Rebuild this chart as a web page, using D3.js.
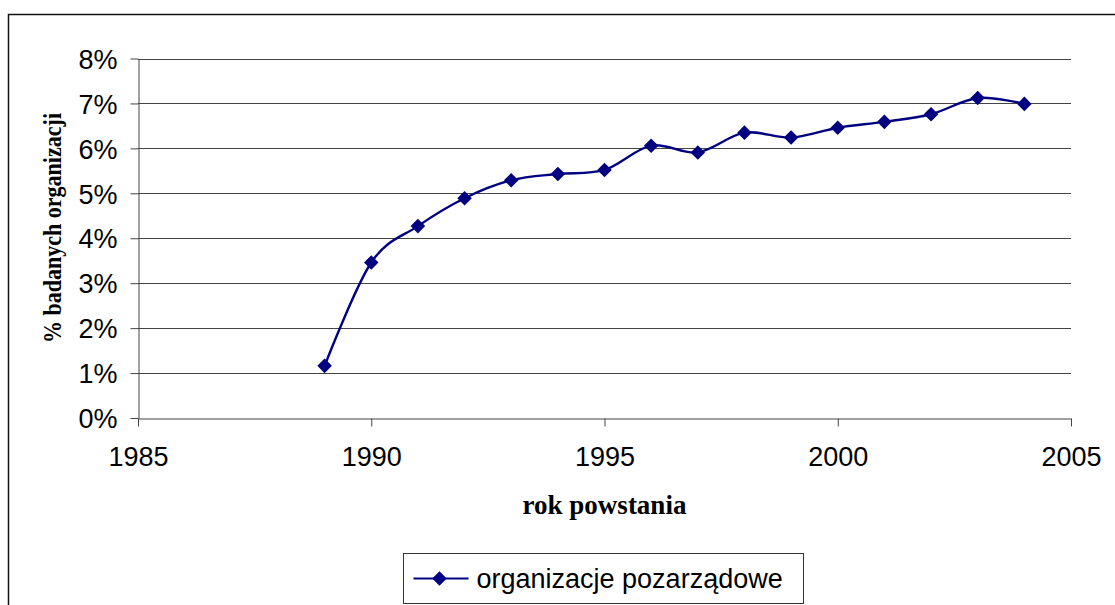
<!DOCTYPE html>
<html>

<head>
    <meta charset="utf-8">
    <title>rok powstania</title>
    <style>
        body { margin: 0; background: #fff; }
        svg { display: block; }
    </style>
</head>

<body>
    <script src="https://d3js.org/d3.v7.min.js"></script>
    <svg width="1115" height="605" id="mainsvg"></svg>

    <script>
        // data
        const years = [1989, 1990, 1991, 1992, 1993, 1994, 1995, 1996, 1997, 1998, 1999, 2000, 2001, 2002, 2003, 2004];
        const shares = [1.16, 3.46, 4.27, 4.89, 5.29, 5.43, 5.52, 6.06, 5.91, 6.35, 6.24, 6.46, 6.59, 6.76, 7.12, 6.99];
        const xTicks = [1985, 1990, 1995, 2000, 2005];
        const yTicks = [0, 1, 2, 3, 4, 5, 6, 7, 8];
        const seriesName = 'organizacje pozarządowe';

        const svg = d3.select('#mainsvg');
        const navy = '#000080';
        const grid = '#444';

        // outer chart border (right/bottom run off the picture)
        svg.append('rect')
            .attr('x', 8.5).attr('y', 14.5)
            .attr('width', 1120).attr('height', 620)
            .attr('fill', 'none').attr('stroke', '#111').attr('stroke-width', 1.5);

        const xScale = d3.scaleLinear().domain([1985, 2005]).range([138, 1071]);
        const yScale = d3.scaleLinear().domain([0, 8]).range([418, 58.5]);

        const g = svg.append('g');

        // horizontal gridlines
        g.selectAll('.grid').data(yTicks.filter(d => d > 0)).join('line')
            .attr('class', 'grid')
            .attr('x1', xScale(1985)).attr('x2', xScale(2005))
            .attr('y1', d => Math.round(yScale(d)) + 0.5).attr('y2', d => Math.round(yScale(d)) + 0.5)
            .attr('stroke', grid).attr('stroke-width', 1);

        // axes
        const yAxis = d3.axisLeft(yScale).tickValues(yTicks).tickFormat(d => d + '%').tickSizeInner(8).tickSizeOuter(0).tickPadding(13);
        const xAxis = d3.axisBottom(xScale).tickValues(xTicks).tickFormat(d3.format('d')).tickSizeInner(8).tickSizeOuter(0).tickPadding(20);

        const yg = g.append('g').attr('transform', `translate(${xScale(1985) + 0.5},0)`).call(yAxis);
        const xg = g.append('g').attr('transform', `translate(0,${Math.round(yScale(0)) + 0.5})`).call(xAxis);

        [yg, xg].forEach(a => {
            a.selectAll('path, line').attr('stroke', grid);
            a.selectAll('text')
                .attr('font-family', 'Liberation Sans, Arial, sans-serif')
                .attr('font-size', '27px')
                .attr('fill', '#000');
        });
        yg.selectAll('text').attr('dy', '0.36em');
        xg.selectAll('text').attr('dy', '0.71em');

        // axis titles
        svg.append('text')
            .attr('x', xScale(1995)).attr('y', 514)
            .attr('text-anchor', 'middle')
            .attr('font-family', 'Liberation Serif, Times New Roman, serif')
            .attr('font-weight', 'bold').attr('font-size', '27px')
            .text('rok powstania');

        svg.append('text')
            .attr('transform', 'translate(61,228) rotate(-90)')
            .attr('text-anchor', 'middle')
            .attr('font-family', 'Liberation Serif, Times New Roman, serif')
            .attr('font-weight', 'bold').attr('font-size', '25px')
            .attr('textLength', 230).attr('lengthAdjust', 'spacingAndGlyphs')
            .text('% badanych organizacji');

        // series
        const pts = years.map((y, i) => ({ year: y, v: shares[i] }));
        const line = d3.line()
            .x(d => xScale(d.year))
            .y(d => yScale(d.v))
            .curve(d3.curveCatmullRom.alpha(0));

        g.append('path').datum(pts)
            .attr('fill', 'none').attr('stroke', navy).attr('stroke-width', 2.4)
            .attr('stroke-linejoin', 'round').attr('d', line);

        const diamond = d3.symbol().type(d3.symbolDiamond2).size(135);
        g.selectAll('.pt').data(pts).join('path')
            .attr('class', 'pt')
            .attr('transform', d => `translate(${xScale(d.year)},${yScale(d.v)})`)
            .attr('d', diamond)
            .attr('fill', navy);

        // legend
        const lg = svg.append('g').attr('transform', 'translate(403.5,553.5)');
        lg.append('rect').attr('width', 400).attr('height', 50)
            .attr('fill', '#fff').attr('stroke', '#333').attr('stroke-width', 1);
        lg.append('line').attr('x1', 10).attr('x2', 65).attr('y1', 25).attr('y2', 25)
            .attr('stroke', navy).attr('stroke-width', 2);
        lg.append('path').attr('transform', 'translate(36,25)').attr('d', diamond).attr('fill', navy);
        lg.append('text').attr('x', 73).attr('y', 34)
            .attr('font-family', 'Liberation Sans, Arial, sans-serif')
            .attr('font-size', '27px')
            .text(seriesName);
    </script>
</body>

</html>
